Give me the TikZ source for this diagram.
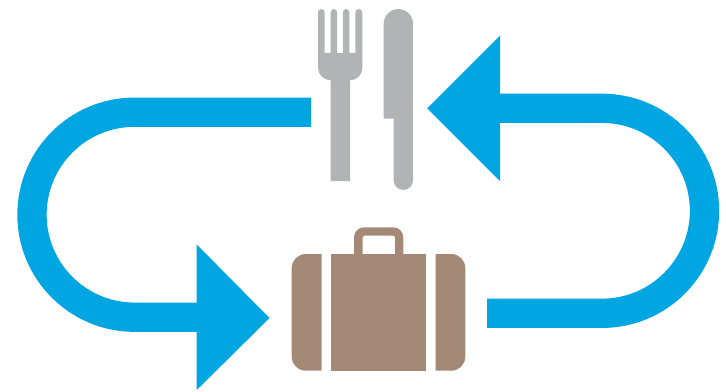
\documentclass[tikz,border=0pt]{standalone}
\definecolor{flow}{RGB}{0,166,226}
\definecolor{cutlery}{RGB}{178,179,181}
\definecolor{bag}{RGB}{164,138,118}
\tikzset{flowline/.style={draw=flow,line width=29.3bp,line cap=butt},flowhead/.style={fill=flow},cutleryfill/.style={fill=cutlery},bagfill/.style={fill=bag}}
\begin{document}
\begin{tikzpicture}[x=1bp,y=-1bp]
\useasboundingbox (0,0) rectangle (726,391);
\coordinate (ls) at (311,112.2);
\coordinate (le) at (200,317.2);
\coordinate (rs) at (487,313.3);
\coordinate (re) at (496,108.3);
\draw[flowline] (ls) -- (134.5,112.2) arc[start angle=270,end angle=90,radius=102.5] -- (le);
\draw[flowline] (rs) -- (602,313.3) arc[start angle=90,end angle=-90,radius=102.5] -- (re);
\fill[flowhead] (196.7,244.5) -- (269.5,318) -- (196.7,390) -- cycle;
\fill[flowhead] (500,35.7) -- (427.3,108.3) -- (500,181) -- cycle;
\fill[cutleryfill] (318,12.3) arc[start angle=180,end angle=360,radius=3.3] -- (324.6,53) -- (330.7,53) -- (330.7,12.2) arc[start angle=180,end angle=360,radius=3.2] -- (337.1,53) -- (343,53) -- (343,12.2) arc[start angle=180,end angle=360,radius=3.2] -- (349.4,53) -- (355.3,53) -- (355.3,12.5) arc[start angle=180,end angle=360,radius=3.5] -- (362.3,68) arc[start angle=0,end angle=90,radius=12.3] -- (350,181) -- (330.7,181) -- (330.7,80.3) arc[start angle=90,end angle=180,radius=12.7] -- cycle;
\fill[cutleryfill] (383.7,23.7) arc[start angle=180,end angle=360,radius=14.65] -- (413,180.3) arc[start angle=0,end angle=180,radius=9.65] -- (393.7,118.5) -- (383.7,118.5) -- cycle;
\fill[bagfill] (321.7,254) -- (305.7,254) arc[start angle=270,end angle=180,radius=14] -- (291.7,356.7) arc[start angle=180,end angle=90,radius=14] -- (321.7,370.7) -- cycle;
\fill[bagfill] (330.7,254) rectangle (426.3,370.7);
\fill[bagfill] (435.7,254) -- (451.3,254) arc[start angle=-90,end angle=0,radius=14] -- (465.3,356.7) arc[start angle=0,end angle=90,radius=14] -- (435.7,370.7) -- cycle;
\fill[bagfill,even odd rule] (354,255) -- (354,237.3) arc[start angle=180,end angle=270,radius=10] -- (393.3,227.3) arc[start angle=270,end angle=360,radius=10] -- (403.3,255) -- cycle (362.7,255) -- (362.7,237.7) arc[start angle=180,end angle=270,radius=2] -- (393,235.7) arc[start angle=270,end angle=360,radius=2] -- (395,255) -- cycle;
\end{tikzpicture}
\end{document}
